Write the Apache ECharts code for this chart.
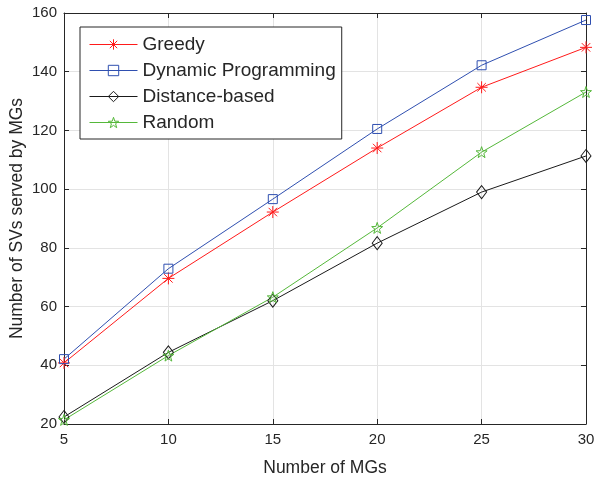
<!DOCTYPE html>
<html><head><meta charset="utf-8">
<script src="https://cdn.jsdelivr.net/npm/echarts@6/dist/echarts.min.js"></script>
<style>html,body{margin:0;padding:0;background:#fff}#c{width:595px;height:477px}</style>
</head><body><div id="c"></div>
<script>
const categories = [5, 10, 15, 20, 25, 30];
const greedy = [40.8, 69.6, 92.2, 114.0, 134.7, 148.3];
const dynamicProg = [42.1, 72.9, 96.6, 120.5, 142.2, 157.6];
const distanceBased = [22.4, 44.4, 62.0, 81.6, 99.0, 111.3];
const randomSel = [21.4, 43.3, 63.2, 86.8, 112.6, 133.1];
const seriesNames = ['Greedy', 'Dynamic Programming', 'Distance-based', 'Random'];

const asterisk = 'path://M0,-10L0,10M-10,0L10,0M-7.07,-7.07L7.07,7.07M-7.07,7.07L7.07,-7.07';
const star = 'path://M0,-10L2.35,-3.24L9.51,-3.09L3.8,1.24L5.88,8.09L0,4L-5.88,8.09L-3.8,1.24L-9.51,-3.09L-2.35,-3.24Z';

function pairs(vals){ return categories.map((c,i)=>[c, vals[i]]); }
const txt = '#262626';
const font = 'Liberation Sans, Arial, sans-serif';

function mk(name, vals, color, symbol, size){
  return {
    name, type:'line', data: pairs(vals), symbol, symbolSize: size,
    showAllSymbol: true,
    lineStyle:{color, width:1},
    itemStyle:{color:'rgba(0,0,0,0)', borderColor:color, borderWidth:1},
    emphasis:{disabled:true}, animation:false, z: 3
  };
}

const chart = echarts.init(document.getElementById('c'), null, {renderer:'canvas'});
chart.setOption({
  animation:false,
  backgroundColor:'#fff',
  grid:{left:64, top:13, right:9, bottom:53, containLabel:false, outerBoundsMode:'none'},
  legend:{
    orient:'vertical', left:80, top:27, data:seriesNames,
    backgroundColor:'#fff', borderColor:txt, borderWidth:1, borderRadius:0,
    padding:[8,6,7,9], itemGap:7, itemWidth:48, itemHeight:13,
    itemStyle:{color:'rgba(0,0,0,0)', borderWidth:1},
    lineStyle:{width:1},
    textStyle:{fontSize:19, color:txt, fontFamily:font},
    selectedMode:false
  },
  xAxis:[{
    type:'value', min:5, max:30, interval:5,
    name:'Number of MGs', nameLocation:'middle', nameGap:35, nameMoveOverlap:false,
    nameTextStyle:{fontSize:17.5, color:txt, fontFamily:font},
    axisLine:{show:true, onZero:false, lineStyle:{color:txt, width:1}},
    axisTick:{show:true, inside:true, length:5, lineStyle:{color:txt}},
    axisLabel:{fontSize:15, color:txt, fontFamily:font, margin:8},
    splitLine:{show:true, lineStyle:{color:'#e3e3e3', width:1}}
  },{
    type:'value', position:'top', min:5, max:30, interval:5,
    axisLine:{show:true, onZero:false, lineStyle:{color:txt, width:1}},
    axisTick:{show:true, inside:true, length:5, lineStyle:{color:txt}},
    axisLabel:{show:false}, splitLine:{show:false}
  }],
  yAxis:[{
    type:'value', min:20, max:160, interval:20,
    name:'Number of SVs served by MGs', nameLocation:'middle', nameGap:38, nameMoveOverlap:false,
    nameTextStyle:{fontSize:17.5, color:txt, fontFamily:font},
    axisLine:{show:true, onZero:false, lineStyle:{color:txt, width:1}},
    axisTick:{show:true, inside:true, length:5, lineStyle:{color:txt}},
    axisLabel:{fontSize:15, color:txt, fontFamily:font, margin:7},
    splitLine:{show:true, lineStyle:{color:'#e3e3e3', width:1}}
  },{
    type:'value', position:'right', min:20, max:160, interval:20,
    axisLine:{show:true, onZero:false, lineStyle:{color:txt, width:1}},
    axisTick:{show:true, inside:true, length:5, lineStyle:{color:txt}},
    axisLabel:{show:false}, splitLine:{show:false}
  }],
  series:[
    mk(seriesNames[0], greedy, '#ff1a1a', asterisk, 12),
    mk(seriesNames[1], dynamicProg, '#2f4fb0', 'rect', 9),
    mk(seriesNames[2], distanceBased, '#1a1a1a', 'diamond', [10,13]),
    mk(seriesNames[3], randomSel, '#55b83a', star, 11)
  ]
});
</script></body></html>
